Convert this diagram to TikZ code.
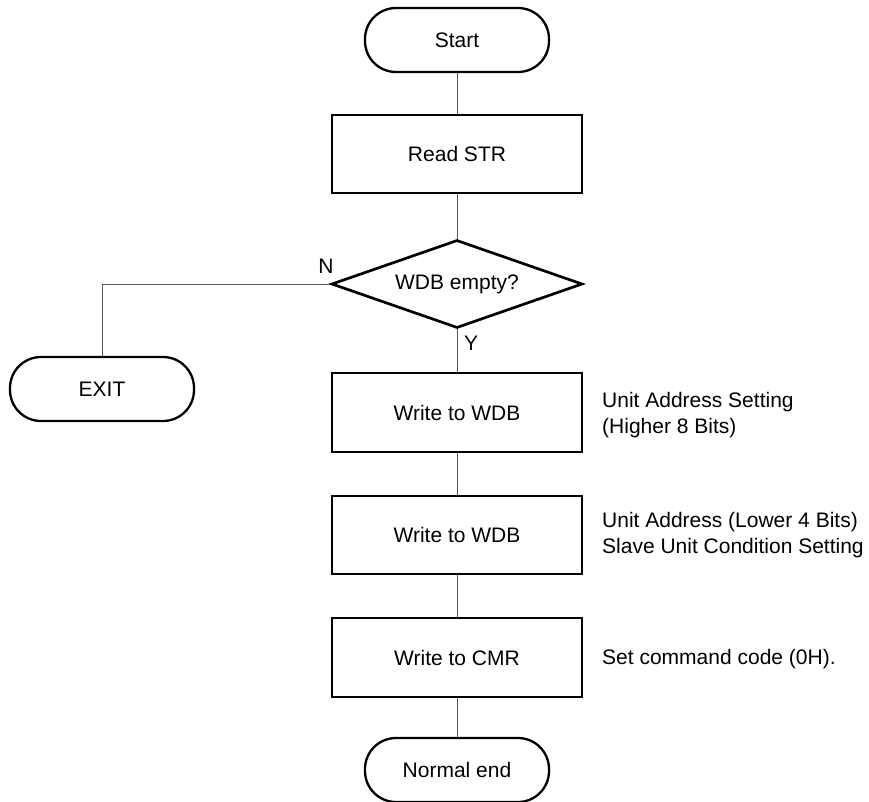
\documentclass[tikz,border=0pt]{standalone}
\usepackage{fontspec}
\setmainfont{Liberation Sans}
\usetikzlibrary{shapes.geometric}
\begin{document}
\begin{tikzpicture}[x=1pt,y=-1pt,
  every node/.style={font=\fontsize{21}{25.5}\selectfont, inner sep=0pt},
  procbox/.style={draw=black, line width=2.7pt, minimum width=250pt, minimum height=78pt, fill=white},
  termbox/.style={draw=black, line width=2.3pt, minimum width=184pt, minimum height=64pt, rounded corners=31pt, fill=white},
  decbox/.style={draw=black, line width=2.7pt, diamond, aspect=2.85, minimum width=251pt, minimum height=88pt, fill=white},
  conn/.style={draw={rgb,1:red,0.35;green,0.35;blue,0.35}, line width=1pt},
  note/.style={anchor=west, align=left},
  lbl/.style={}]
\useasboundingbox (0,0) rectangle (869,801);
\fill[white] (0,0) rectangle (869,801);
% nodes
\node[termbox] (start) at (457,40) {Start};
\node[procbox] (read) at (457,154) {Read STR};
\node[decbox] (dec) at (457,284) {WDB empty?};
\node[termbox] (exit) at (102,389) {EXIT};
\node[procbox, minimum height=79pt] (w1) at (457,412.5) {Write to WDB};
\node[procbox] (w2) at (457,535) {Write to WDB};
\node[procbox, minimum height=79pt] (cmr) at (457,657.5) {Write to CMR};
\node[termbox] (fin) at (457,770) {Normal end};
% labels
\node[lbl] (nlab) at (326,266) {N};
\node[lbl] (ylab) at (471,343) {Y};
\node[note] (n1) at (602,415) {Unit Address Setting\\(Higher 8 Bits)};
\node[note] (n2) at (602,535) {Unit Address (Lower 4 Bits)\\Slave Unit Condition Setting};
\node[note] (n3) at (602,659) {Set command code (0H).};
% connectors
\draw[conn] (start.south) -- (read.north);
\draw[conn] (read.south) -- (dec.north);
\draw[conn] (dec.south) -- (w1.north);
\draw[conn] (w1.south) -- (w2.north);
\draw[conn] (w2.south) -- (cmr.north);
\draw[conn] (cmr.south) -- (fin.north);
\draw[conn] (dec.west) -| (exit.north);
\end{tikzpicture}
\end{document}
